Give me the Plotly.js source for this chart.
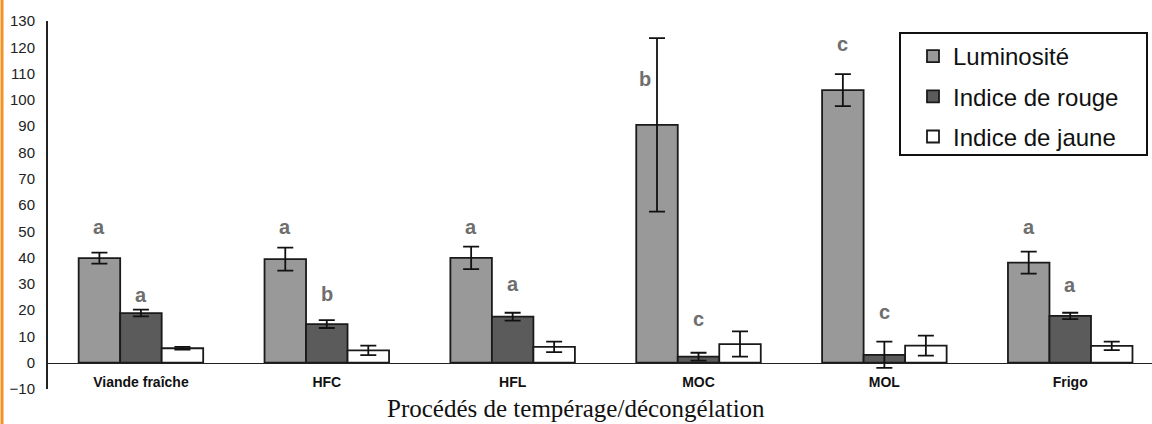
<!DOCTYPE html>
<html>
<head>
<meta charset="utf-8">
<script src="https://cdn.plot.ly/plotly-3.0.1.min.js"></script>
<style>html,body{margin:0;padding:0;background:#fff;}#chart{width:1152px;height:424px;}</style>
</head>
<body>
<div id="chart"></div>
<script>
// ---- data ----
var categories = ["Viande fraîche", "HFC", "HFL", "MOC", "MOL", "Frigo"];
var seriesNames = ["Luminosité", "Indice de rouge", "Indice de jaune"];
var luminosite = [39.8, 39.4, 39.9, 90.5, 103.7, 38.1];
var luminositeErr = [2.1, 4.4, 4.3, 33, 6.1, 4.2];
var rouge = [18.9, 14.7, 17.5, 2.3, 3.0, 17.8];
var rougeErr = [1.3, 1.5, 1.5, 1.5, 5.0, 1.2];
var jaune = [5.5, 4.7, 6.0, 7.1, 6.5, 6.4];
var jauneErr = [0.5, 1.8, 2.0, 4.8, 3.8, 1.6];
var lettersLum = ["a", "a", "a", "b", "c", "a"];
var lettersRouge = ["a", "b", "a", "c", "c", "a"];
var yTickVals = [-10, 0, 10, 20, 30, 40, 50, 60, 70, 80, 90, 100, 110, 120, 130];
var xTitle = "Procédés de tempérage/décongélation";

// ---- label placement (layout, not data) ----
var lumLetterLevel = [51.6, 51.6, 51.6, 107.9, 121.2, 51.6];
var rougeLetterLevel = [25.8, 26.1, 29.9, 16.6, 19.3, 29.6];
var lumLetterShift = [0, 0, 0, -12, 0, 0];

var BARGAP = 0.33;
var barW = (1 - BARGAP) / 3;
var outline = {color: "#1a1a1a", width: 1.8};
function errCfg(arr) {
  return {type: "data", array: arr, visible: true, color: "#111", thickness: 1.8, width: 8};
}
var traces = [
  {type: "bar", name: seriesNames[0], x: categories, y: luminosite, error_y: errCfg(luminositeErr),
   marker: {color: "#999999", line: outline}, legendgroup: "g1"},
  {type: "bar", name: seriesNames[1], x: categories, y: rouge, error_y: errCfg(rougeErr),
   marker: {color: "#5b5b5b", line: outline}, legendgroup: "g2"},
  {type: "bar", name: seriesNames[2], x: categories, y: jaune, error_y: errCfg(jauneErr),
   marker: {color: "#ffffff", line: outline}, legendgroup: "g3"}
];

var letterFont = {family: "Arial, Liberation Sans, sans-serif", size: 20, color: "#6e6e6e", weight: "bold"};
var annotations = [];
categories.forEach(function (c, i) {
  annotations.push({xref: "x", yref: "y", x: i - barW, y: lumLetterLevel[i], text: lettersLum[i],
    showarrow: false, font: letterFont, xshift: lumLetterShift[i], yanchor: "middle"});
  annotations.push({xref: "x", yref: "y", x: i, y: rougeLetterLevel[i], text: lettersRouge[i],
    showarrow: false, font: letterFont, yanchor: "middle"});
});
annotations.push({xref: "paper", yref: "paper", x: (576 - 48) / 1104, y: (389 - 408) / 368,
  text: xTitle, showarrow: false, xanchor: "center", yanchor: "middle",
  font: {family: "Liberation Serif, Times New Roman, serif", size: 25, color: "#111"}});

var layout = {
  width: 1152, height: 424,
  margin: {l: 48, r: 0, t: 21, b: 35},
  paper_bgcolor: "#ffffff", plot_bgcolor: "#ffffff",
  barmode: "group", bargap: BARGAP, bargroupgap: 0,
  showlegend: true,
  legend: {x: (913 - 48) / 1104, y: (389 - 34) / 368, xanchor: "left", yanchor: "top",
    bgcolor: "rgba(0,0,0,0)", borderwidth: 0, traceorder: "grouped", tracegroupgap: 6,
    font: {family: "Arial, Liberation Sans, sans-serif", size: 24, color: "#111"}},
  xaxis: {type: "category", range: [-0.5, 5.44], anchor: "free", position: 10 / 140,
    showline: true, linecolor: "#222", linewidth: 1.5, showgrid: false, zeroline: false,
    ticks: "outside", ticklen: 6, tickcolor: "rgba(0,0,0,0)",
    tickfont: {family: "Arial, Liberation Sans, sans-serif", size: 14, color: "#111", weight: "bold"}},
  yaxis: {range: [-10, 130], tickvals: yTickVals, showline: true, linecolor: "#222", linewidth: 2,
    showgrid: false, zeroline: false, ticks: "outside", ticklen: 8, tickcolor: "rgba(0,0,0,0)",
    tickfont: {family: "Arial, Liberation Sans, sans-serif", size: 15, color: "#222"}},
  annotations: annotations,
  shapes: [
    {type: "rect", xref: "paper", yref: "paper", x0: (900 - 48) / 1104, x1: (1147 - 48) / 1104,
     y0: (389 - 155) / 368, y1: (389 - 33) / 368, line: {color: "#111", width: 2}, fillcolor: "rgba(0,0,0,0)"},
    {type: "line", xref: "paper", yref: "paper", x0: (2 - 48) / 1104, x1: (2 - 48) / 1104,
     y0: (389 - 424) / 368, y1: 389 / 368, line: {color: "#f39324", width: 3}}
  ]
};
Plotly.newPlot("chart", traces, layout, {staticPlot: true, displayModeBar: false});
</script>
</body>
</html>
